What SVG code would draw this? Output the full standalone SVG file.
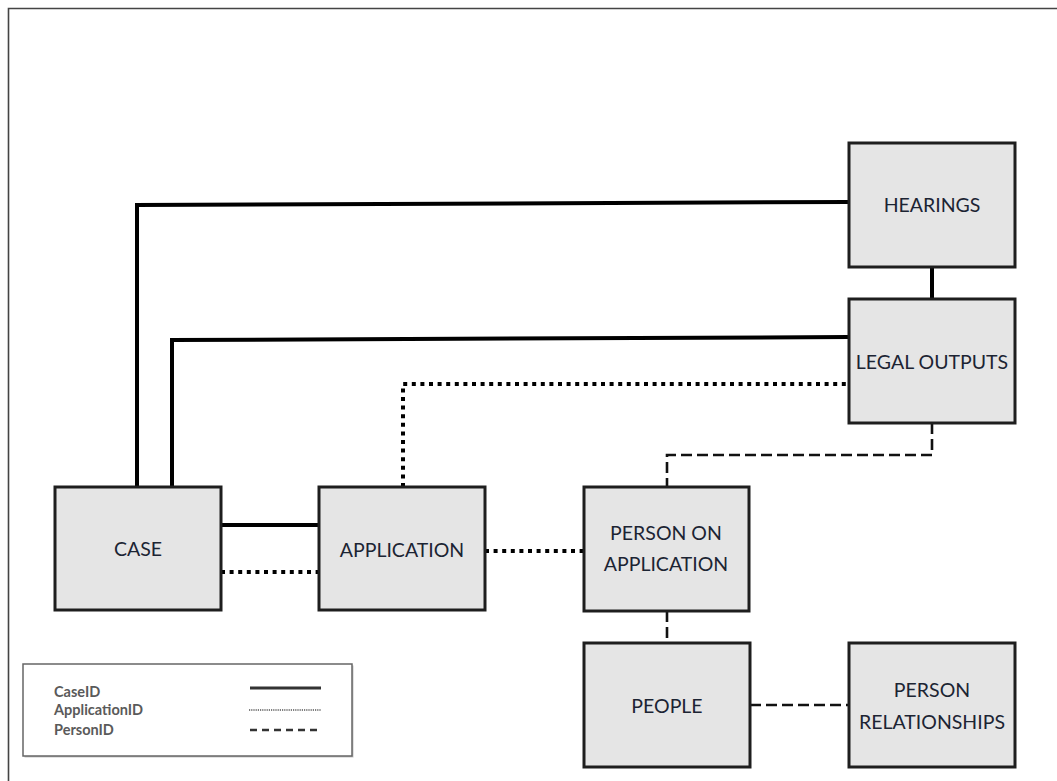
<svg xmlns="http://www.w3.org/2000/svg" width="1057" height="781" viewBox="0 0 1057 781">
<style>
.box{fill:#e5e5e5;stroke:#1e1e1e;stroke-width:3}
.lbl{font-family:Lato,"Open Sans",sans-serif;font-size:19.5px;fill:#1c2433;text-anchor:middle}
.solid{fill:none;stroke:#000;stroke-width:4}
.dot{fill:none;stroke:#000;stroke-width:4;stroke-dasharray:4 4.6}
.dash{fill:none;stroke:#111;stroke-width:2.6;stroke-dasharray:11 5}
.leg{font-family:Lato,"Open Sans",sans-serif;font-size:14.5px;fill:#5a5a5a;font-weight:bold}
</style>
<rect x="0" y="0" width="1057" height="781" fill="#fff"/>
<path d="M8.5 781 V8.5 H1057" fill="none" stroke="#444" stroke-width="1.6"/>
<g id="connectors">
<polyline class="solid" points="137,487 137,205 849,202"/>
<polyline class="solid" points="172,487 172,340 849,337"/>
<polyline class="solid" points="932,267 932,299"/>
<polyline class="solid" points="221,525 319,525"/>
<polyline class="dot" points="221,572 319,572"/>
<polyline class="dot" points="403,487 403,384 849,384"/>
<polyline class="dot" points="485,551 584,551"/>
<polyline class="dash" points="932,423 932,455 667,455 667,487"/>
<polyline class="dash" points="667,611 667,643"/>
<polyline class="dash" points="750,705 849,705"/>
</g>
<g id="node-hearings"><rect class="box" x="849" y="143" width="166" height="124"/><text class="lbl" x="932" y="212">HEARINGS</text></g>
<g id="node-legal-outputs"><rect class="box" x="849" y="299" width="166" height="124"/><text class="lbl" x="932" y="369">LEGAL OUTPUTS</text></g>
<g id="node-case"><rect class="box" x="55" y="487" width="166" height="123"/><text class="lbl" x="138" y="556">CASE</text></g>
<g id="node-application"><rect class="box" x="319" y="487" width="166" height="123"/><text class="lbl" x="402" y="557">APPLICATION</text></g>
<g id="node-person-on-application"><rect class="box" x="584" y="487" width="165" height="124"/><text class="lbl" x="666" y="540">PERSON ON</text><text class="lbl" x="666" y="571">APPLICATION</text></g>
<g id="node-people"><rect class="box" x="584" y="643" width="166" height="124"/><text class="lbl" x="667" y="713">PEOPLE</text></g>
<g id="node-person-relationships"><rect class="box" x="849" y="643" width="166" height="124"/><text class="lbl" x="932" y="697">PERSON</text><text class="lbl" x="932" y="729">RELATIONSHIPS</text></g>
<g id="legend">
<rect x="24.5" y="665.5" width="329" height="92" fill="#555" opacity="0.35"/>
<rect x="23" y="664" width="329" height="92" fill="#fff" stroke="#666" stroke-width="1.5"/>
<text class="leg" x="54" y="697">CaseID</text>
<text class="leg" x="54" y="715">ApplicationID</text>
<text class="leg" x="54" y="735">PersonID</text>
<line x1="250" y1="688" x2="321" y2="688" stroke="#333" stroke-width="3"/>
<line x1="249" y1="710" x2="321" y2="710" stroke="#555" stroke-width="1.5" stroke-dasharray="1.2 1"/>
<line x1="250" y1="730" x2="318" y2="730" stroke="#333" stroke-width="2.5" stroke-dasharray="7 5"/>
</g>
</svg>
